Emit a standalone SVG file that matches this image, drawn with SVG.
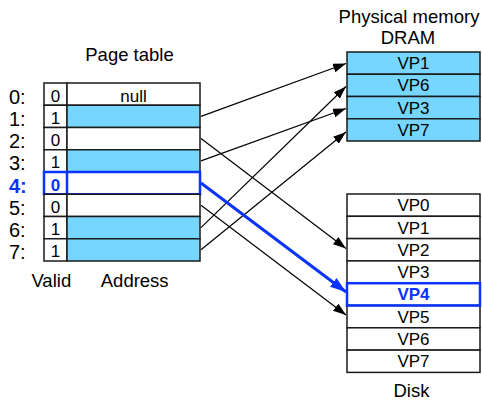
<svg xmlns="http://www.w3.org/2000/svg" width="482" height="400" viewBox="0 0 482 400">
  <style>
    text { font-family: "Liberation Sans", Arial, Helvetica, sans-serif; fill: #000; }
    .hdr { font-size: 18.5px; text-anchor: middle; }
    .idx { font-size: 20px; }
    .cell { font-size: 17px; text-anchor: middle; }
    .box { fill: #fff; stroke: #1a1a1a; stroke-width: 1.5; }
    .mem { fill: #76d6ff; stroke: #1a1a1a; stroke-width: 1.5; }
    .hl { fill: none; stroke: #0a33ff; stroke-width: 2.5; }
    .blue { fill: #0a33ff; font-weight: bold; }
    .conn { fill: none; stroke: #000; stroke-width: 1.2; }
    .conn-hl { fill: none; stroke: #0a33ff; stroke-width: 3; }
  </style>
  <defs>
    <marker id="arrow" markerUnits="userSpaceOnUse" markerWidth="14" markerHeight="10" refX="13" refY="4.5" orient="auto">
      <path d="M0,0 L13,4.5 L0,9 z" fill="#000"/>
    </marker>
    <marker id="arrow-hl" markerUnits="userSpaceOnUse" markerWidth="17" markerHeight="12" refX="16" refY="5.5" orient="auto">
      <path d="M0,0 L16,5.5 L0,11 z" fill="#0a33ff"/>
    </marker>
  </defs>

  <!-- Page table -->
  <g id="page-table">
    <text class="hdr" x="129.5" y="61">Page table</text>
    <g id="pte0">
      <rect class="box" x="44" y="83" width="23" height="22.25"/>
      <rect class="box" x="67" y="83" width="133" height="22.25"/>
      <text class="idx" x="9" y="103.5">0:</text>
      <text class="cell" x="55.5" y="101.5">0</text>
      <text class="cell" x="133.5" y="101.5">null</text>
    </g>
    <g id="pte1">
      <rect class="box" x="44" y="105.25" width="23" height="22.25"/>
      <rect class="mem" x="67" y="105.25" width="133" height="22.25"/>
      <text class="idx" x="9" y="125.75">1:</text>
      <text class="cell" x="55.5" y="123.75">1</text>
    </g>
    <g id="pte2">
      <rect class="box" x="44" y="127.5" width="23" height="22.25"/>
      <rect class="box" x="67" y="127.5" width="133" height="22.25"/>
      <text class="idx" x="9" y="148">2:</text>
      <text class="cell" x="55.5" y="146">0</text>
    </g>
    <g id="pte3">
      <rect class="box" x="44" y="149.75" width="23" height="22.25"/>
      <rect class="mem" x="67" y="149.75" width="133" height="22.25"/>
      <text class="idx" x="9" y="170.25">3:</text>
      <text class="cell" x="55.5" y="168.25">1</text>
    </g>
    <g id="pte4">
      <rect class="box" x="44" y="172" width="23" height="22.25"/>
      <rect class="box" x="67" y="172" width="133" height="22.25"/>
      <rect class="hl" x="44" y="172" width="156" height="22.25"/>
      <line class="hl" x1="67" y1="172" x2="67" y2="194.25"/>
      <text class="idx blue" x="9" y="192.5">4:</text>
      <text class="cell blue" x="55.5" y="190.5">0</text>
    </g>
    <g id="pte5">
      <rect class="box" x="44" y="194.25" width="23" height="22.25"/>
      <rect class="box" x="67" y="194.25" width="133" height="22.25"/>
      <text class="idx" x="9" y="214.75">5:</text>
      <text class="cell" x="55.5" y="212.75">0</text>
    </g>
    <g id="pte6">
      <rect class="box" x="44" y="216.5" width="23" height="22.25"/>
      <rect class="mem" x="67" y="216.5" width="133" height="22.25"/>
      <text class="idx" x="9" y="237">6:</text>
      <text class="cell" x="55.5" y="235">1</text>
    </g>
    <g id="pte7">
      <rect class="box" x="44" y="238.75" width="23" height="22.25"/>
      <rect class="mem" x="67" y="238.75" width="133" height="22.25"/>
      <text class="idx" x="9" y="259.25">7:</text>
      <text class="cell" x="55.5" y="257.25">1</text>
    </g>
    <text class="hdr" x="51.3" y="286.5">Valid</text>
    <text class="hdr" x="134.7" y="286.5">Address</text>
  </g>

  <!-- Physical memory (DRAM) -->
  <g id="dram">
    <text class="hdr" x="409" y="23">Physical memory</text>
    <text class="hdr" x="408" y="44">DRAM</text>
    <rect class="mem" x="347" y="52" width="133" height="22.25"/>
    <rect class="mem" x="347" y="74.25" width="133" height="22.25"/>
    <rect class="mem" x="347" y="96.5" width="133" height="22.25"/>
    <rect class="mem" x="347" y="118.75" width="133" height="22.25"/>
    <text class="cell" x="413.5" y="69.2">VP1</text>
    <text class="cell" x="413.5" y="91.45">VP6</text>
    <text class="cell" x="413.5" y="113.7">VP3</text>
    <text class="cell" x="413.5" y="135.95">VP7</text>
  </g>

  <!-- Disk -->
  <g id="disk">
    <rect class="box" x="347" y="194" width="133" height="22.3"/>
    <rect class="box" x="347" y="216.3" width="133" height="22.3"/>
    <rect class="box" x="347" y="238.6" width="133" height="22.3"/>
    <rect class="box" x="347" y="260.9" width="133" height="22.3"/>
    <rect class="box" x="347" y="283.2" width="133" height="22.3"/>
    <rect class="box" x="347" y="305.5" width="133" height="22.3"/>
    <rect class="box" x="347" y="327.8" width="133" height="22.3"/>
    <rect class="box" x="347" y="350.1" width="133" height="22.3"/>
    <rect class="hl" x="347" y="283.2" width="133" height="22.3"/>
    <text class="cell" x="413.5" y="211.2">VP0</text>
    <text class="cell" x="413.5" y="233.5">VP1</text>
    <text class="cell" x="413.5" y="255.8">VP2</text>
    <text class="cell" x="413.5" y="278.1">VP3</text>
    <text class="cell blue" x="413.5" y="300.4">VP4</text>
    <text class="cell" x="413.5" y="322.7">VP5</text>
    <text class="cell" x="413.5" y="345">VP6</text>
    <text class="cell" x="413.5" y="367.3">VP7</text>
    <text class="hdr" x="411.5" y="396.5">Disk</text>
  </g>

  <!-- Connectors from page table entries -->
  <g id="connectors">
    <line class="conn" x1="201" y1="116.4" x2="346" y2="63.5" marker-end="url(#arrow)"/>
    <line class="conn" x1="201" y1="138.6" x2="346" y2="248.5" marker-end="url(#arrow)"/>
    <line class="conn" x1="201" y1="160.9" x2="346" y2="108.5" marker-end="url(#arrow)"/>
    <line class="conn" x1="201" y1="205.3" x2="346" y2="315" marker-end="url(#arrow)"/>
    <line class="conn" x1="201" y1="227.6" x2="346" y2="86.5" marker-end="url(#arrow)"/>
    <line class="conn" x1="201" y1="249.8" x2="346" y2="132" marker-end="url(#arrow)"/>
    <line class="conn-hl" x1="201" y1="183" x2="346" y2="292" marker-end="url(#arrow-hl)"/>
  </g>
</svg>
